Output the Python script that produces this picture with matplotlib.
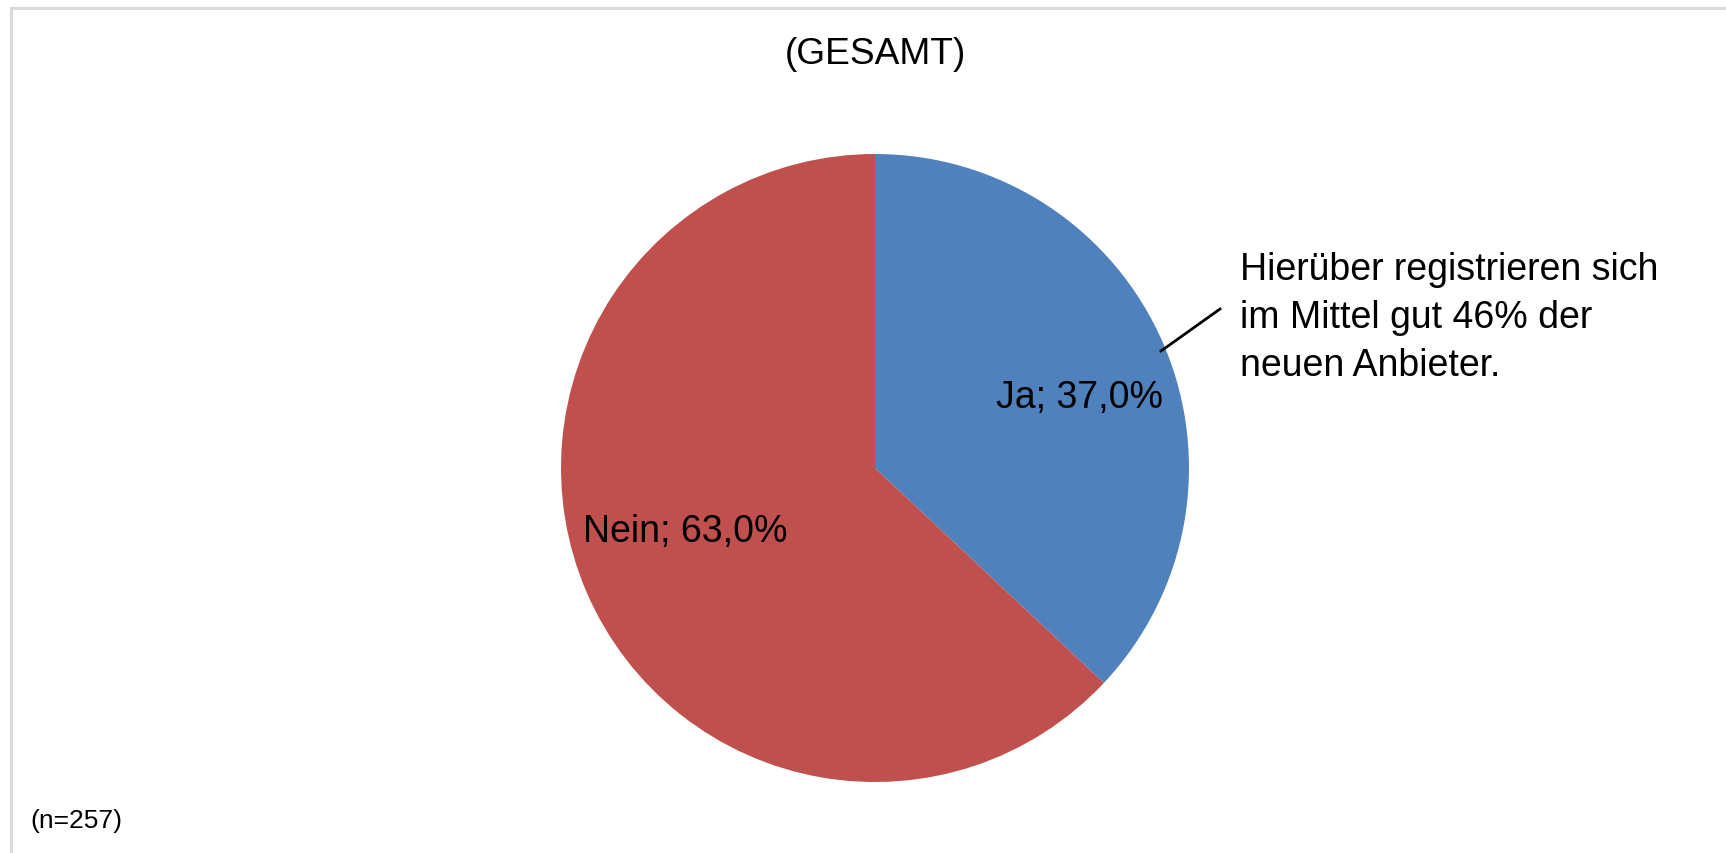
import matplotlib
matplotlib.use("Agg")
import matplotlib.pyplot as plt
from matplotlib.patches import Rectangle

plt.rcParams['font.family'] = ['Liberation Sans', 'DejaVu Sans']

categories = ["Ja", "Nein"]
values = [37.0, 63.0]
colors = ["#4F81BD", "#C0504D"]
title = "(GESAMT)"
note = "(n=257)"
callout = "Hierüber registrieren sich\nim Mittel gut 46% der\nneuen Anbieter."

W, H = 1726, 854
fig = plt.figure(figsize=(W / 100, H / 100), dpi=100)
ax = fig.add_axes([0, 0, 1, 1])

cx, cy, r = 875, H - 469, 314
wedges, _ = ax.pie(values, colors=colors, startangle=90, counterclock=False,
                   center=(cx, cy), radius=r, frame=True,
                   wedgeprops=dict(linewidth=0))

ax.set_xlim(0, W)
ax.set_ylim(0, H)
ax.set_aspect('auto')
ax.axis('off')

def lbl(c, v):
    return f"{c}; {v:.1f}".replace(".", ",") + "%"

ax.text(1079, H - 398, lbl(categories[0], values[0]), fontsize=27,
        ha='center', va='center')
ax.text(685, H - 532, lbl(categories[1], values[1]), fontsize=27,
        ha='center', va='center')

ax.text(W / 2 + 12, H - 55, title, fontsize=26.7, ha='center', va='center')
ax.text(30, H - 821, note, fontsize=19, ha='left', va='center')

ax.text(1240, H - 252, callout, fontsize=27, ha='left', va='top',
        linespacing=1.42)
ax.plot([1161, 1220], [H - 352, H - 310], color='black', lw=2)

ax.add_patch(Rectangle((11, -10), W + 20, H - 9 + 10, fill=False,
                       edgecolor='#D9D9D9', lw=2.2, clip_on=False))

fig.savefig("out.png", dpi=100)
